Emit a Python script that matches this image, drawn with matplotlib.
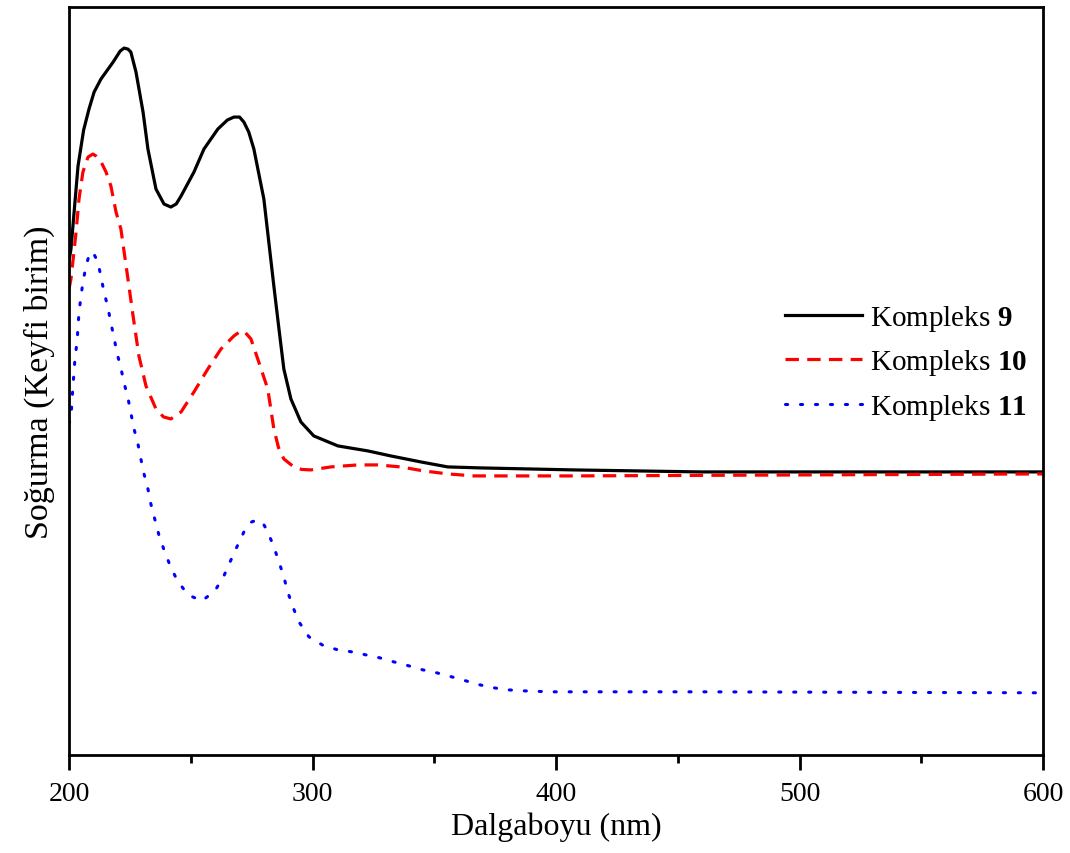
import matplotlib
matplotlib.use("Agg")
import matplotlib.pyplot as plt
from matplotlib.ticker import MultipleLocator

plt.rcParams['font.family'] = ['Liberation Serif', 'DejaVu Serif']
plt.rcParams['mathtext.fontset'] = 'custom'
plt.rcParams['mathtext.rm'] = 'Liberation Serif'
plt.rcParams['mathtext.bf'] = 'Liberation Serif:bold'

# Kompleks 9
wl_9 = [200.0, 200.8, 203.7, 206.0, 208.2, 210.3, 213.1, 218.1, 221.0, 222.6,
        224.2, 225.4, 227.5, 230.4, 232.4, 235.7, 239.0, 241.8, 244.0, 246.0,
        251.3, 255.4, 261.1, 265.0, 267.7, 270.0, 271.8, 273.8, 275.9, 280.0,
        284.1, 286.2, 288.2, 291.1, 295.2, 300.5, 310.4, 322.7, 332.1, 344.4,
        355.5, 369.0, 407.2, 459.3, 600.0]
abs_9 = [0.988, 1.012, 1.178, 1.250, 1.292, 1.326, 1.352, 1.386, 1.408, 1.414,
         1.412, 1.406, 1.366, 1.286, 1.212, 1.132, 1.102, 1.096, 1.102, 1.118,
         1.166, 1.212, 1.252, 1.270, 1.276, 1.276, 1.266, 1.246, 1.212, 1.112,
         0.938, 0.852, 0.772, 0.712, 0.666, 0.638, 0.618, 0.608, 0.598, 0.586,
         0.576, 0.574, 0.570, 0.566, 0.566]

# Kompleks 10
wl_10 = [200.0, 200.8, 202.9, 204.1, 205.7, 207.8, 209.8, 211.1, 213.2, 215.2,
         217.2, 219.3, 221.3, 224.2, 226.3, 228.7, 231.6, 235.7, 238.8, 241.8,
         246.0, 251.3, 257.0, 262.4, 267.7, 270.0, 271.8, 274.7, 277.9, 281.6,
         284.1, 286.0, 288.2, 292.3, 295.5, 299.3, 307.5, 318.6, 326.8, 336.2,
         345.6, 355.5, 366.2, 407.2, 600.0]
abs_10 = [0.932, 0.952, 1.046, 1.112, 1.166, 1.196, 1.202, 1.198, 1.186, 1.166,
          1.138, 1.086, 1.052, 0.952, 0.878, 0.798, 0.738, 0.692, 0.676, 0.672,
          0.686, 0.726, 0.772, 0.812, 0.838, 0.846, 0.848, 0.832, 0.786, 0.732,
          0.652, 0.615, 0.592, 0.576, 0.571, 0.570, 0.576, 0.580, 0.580, 0.576,
          0.568, 0.562, 0.558, 0.558, 0.562]

# Kompleks 11
wl_11 = [200.0, 200.8, 201.6, 202.5, 203.3, 204.1, 204.9, 205.7, 207.0, 208.6,
         210.2, 211.9, 213.1, 214.4, 216.0, 217.2, 218.5, 219.7, 221.3, 222.6,
         224.2, 225.4, 226.7, 228.3, 229.5, 230.8, 232.4, 233.6, 235.3, 236.9,
         239.0, 241.4, 244.3, 248.8, 254.6, 259.9, 263.6, 266.5, 269.3, 272.2,
         275.0, 277.5, 279.6, 281.6, 284.1, 286.2, 288.2, 289.8, 291.9, 294.4,
         298.5, 304.6, 310.4, 316.1, 321.8, 327.6, 333.3, 339.5, 345.2, 351.0,
         357.1, 362.9, 368.6, 374.4, 380.1, 386.3, 397.7, 459.3, 600.0]
abs_11 = [0.662, 0.676, 0.736, 0.796, 0.826, 0.886, 0.916, 0.946, 0.978, 1.006,
          1.002, 0.986, 0.956, 0.926, 0.894, 0.864, 0.834, 0.804, 0.774, 0.744,
          0.714, 0.684, 0.652, 0.622, 0.592, 0.562, 0.532, 0.502, 0.470, 0.440,
          0.410, 0.380, 0.350, 0.320, 0.308, 0.328, 0.358, 0.390, 0.420, 0.450,
          0.466, 0.470, 0.464, 0.446, 0.416, 0.386, 0.356, 0.326, 0.296, 0.266,
          0.236, 0.218, 0.210, 0.206, 0.200, 0.194, 0.186, 0.178, 0.170, 0.164,
          0.156, 0.148, 0.140, 0.134, 0.130, 0.128, 0.126, 0.126, 0.124]

fig = plt.figure(figsize=(10.7, 8.54), dpi=100)
ax = fig.add_axes([0.0645, 0.115, 0.9105, 0.8755])

ax.plot(wl_9, abs_9, color='black', lw=2.3, label=r'Kompleks $\mathbf{9}$')
ax.plot(wl_10, abs_10, color='red', lw=2.3, linestyle=(0, (4.2, 2.6)),
        label=r'Kompleks $\mathbf{10}$')
ax.plot(wl_11, abs_11, color='blue', lw=2.2, linestyle=(0, (0.7, 4.2)),
        dash_capstyle='round', label=r'Kompleks $\mathbf{11}$')

ax.set_xlim(200, 600)
ax.set_ylim(0, 1.496)
ax.xaxis.set_major_locator(MultipleLocator(100))
ax.xaxis.set_minor_locator(MultipleLocator(50))
ax.set_yticks([])
ax.tick_params(axis='x', which='major', direction='out', length=11, width=2,
               labelsize=20, pad=8)
ax.tick_params(axis='x', which='minor', direction='out', length=6, width=2)
for s in ax.spines.values():
    s.set_linewidth(2)

ax.set_xlabel('Dalgaboyu (nm)', fontsize=23, labelpad=4)
ax.set_ylabel('Soğurma (Keyfi birim)', fontsize=24.5, labelpad=10)

ax.legend(loc='upper left', bbox_to_anchor=(0.723, 0.62), frameon=False,
          fontsize=21, handlelength=2.64, handletextpad=0.27, labelspacing=0.5,
          borderaxespad=0)

fig.savefig('out.png', dpi=100)
